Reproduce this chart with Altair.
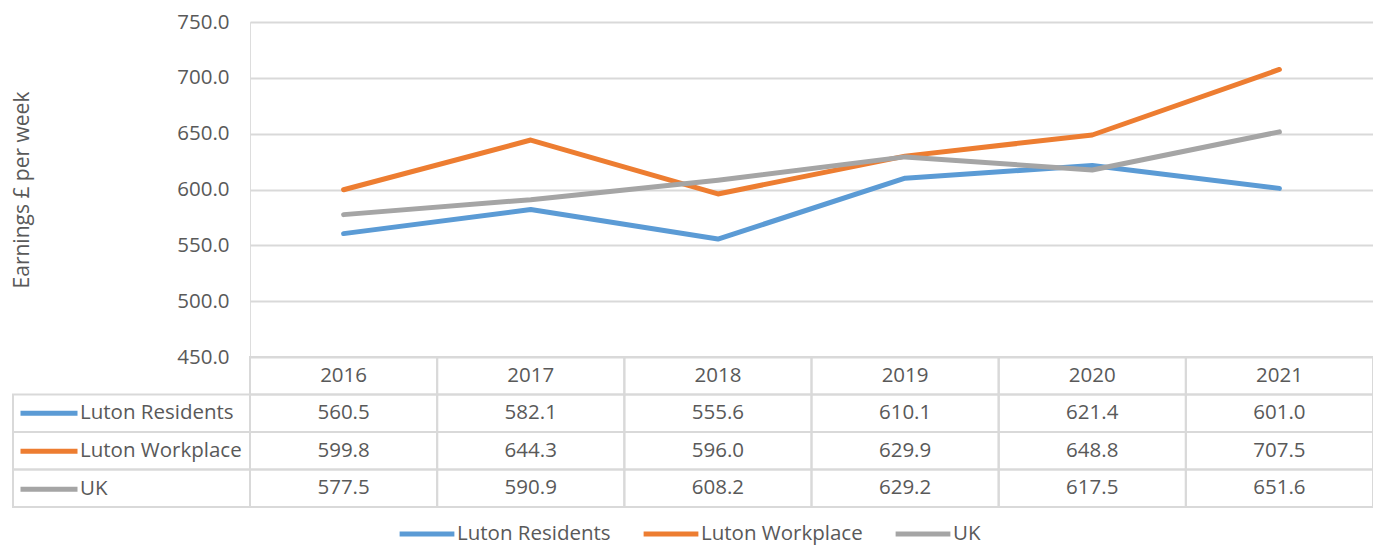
import altair as alt
import pandas as pd

# ---- data ----
years = ["2016", "2017", "2018", "2019", "2020", "2021"]
series = ["Luton Residents", "Luton Workplace", "UK"]
residents = [560.5, 582.1, 555.6, 610.1, 621.4, 601.0]
workplace = [599.8, 644.3, 596.0, 629.9, 648.8, 707.5]
uk = [577.5, 590.9, 608.2, 629.2, 617.5, 651.6]
y_ticks = [450, 500, 550, 600, 650, 700, 750]
colors = ["#5B9BD5", "#ED7D31", "#A5A5A5"]

values = {"Luton Residents": residents, "Luton Workplace": workplace, "UK": uk}
long = pd.DataFrame(
    [{"year": y, "series": s, "value": v} for s in series for y, v in zip(years, values[s])]
)

rows = ["header"] + series
cells = pd.DataFrame(
    [{"year": y, "row": "header", "text": y} for y in years]
    + [{"year": y, "row": s, "text": f"{v:.1f}"} for s in series for y, v in zip(years, values[s])]
)
label_cells = pd.DataFrame([{"col": "label", "row": s} for s in series])

# ---- layout ----
W = 1123
H_LINES = 335
ROW_H = 37.5
H = H_LINES + 4 * ROW_H
LABEL_W = 237
FONT = "Open Sans"
TXT = "#595959"
GRID = "#D9D9D9"
FS = 20.5

x_band = alt.Scale(type="band", domain=years, range=[0, W], paddingInner=0, paddingOuter=0)
y_rows = alt.Scale(type="band", domain=rows, range=[H_LINES, H], paddingInner=0, paddingOuter=0)
color_scale = alt.Scale(domain=series, range=colors)

grid_cells = alt.Chart(cells).mark_rect(
    fill="white", fillOpacity=0, stroke=GRID, strokeWidth=2
).encode(
    x=alt.X("year:N", scale=x_band, axis=None),
    y=alt.Y("row:N", scale=y_rows, axis=None),
)

label_grid = alt.Chart(label_cells).mark_rect(
    fill="white", fillOpacity=0, stroke=GRID, strokeWidth=2
).encode(
    x=alt.X("col:N", scale=alt.Scale(type="band", domain=["label"], range=[-LABEL_W, 0],
                                      paddingInner=0, paddingOuter=0), axis=None),
    y=alt.Y("row:N", scale=y_rows, axis=None),
)

cell_text = alt.Chart(cells).mark_text(
    font=FONT, fontSize=FS, color=TXT, align="center", baseline="middle"
).encode(
    x=alt.X("year:N", scale=x_band, axis=None),
    y=alt.Y("row:N", scale=y_rows, axis=None),
    text="text:N",
)

lines = alt.Chart(long).mark_line(
    strokeWidth=5, strokeCap="round", strokeJoin="round"
).encode(
    x=alt.X("year:N", scale=x_band, axis=None),
    y=alt.Y(
        "value:Q",
        scale=alt.Scale(domain=[450, 750], range=[H_LINES, 0], nice=False, zero=False),
        axis=alt.Axis(
            values=y_ticks, format=".1f", title="Earnings £ per week",
            grid=True, gridColor=GRID, gridWidth=2, domain=False, ticks=False,
            labelFont=FONT, labelFontSize=FS, labelColor=TXT, labelPadding=21,
            titleFont=FONT, titleFontSize=21, titleColor=TXT, titleFontWeight="normal",
            titleX=-228, titleY=H_LINES / 2, titleAlign="center", titleBaseline="middle",
            titleAngle=270,
        ),
    ),
    color=alt.Color(
        "series:N", scale=color_scale,
        legend=alt.Legend(
            orient="none", direction="horizontal", title=None,
            legendX=147, legendY=500, symbolType="stroke", symbolSize=3000,
            symbolStrokeWidth=5, labelFont=FONT, labelFontSize=FS, labelColor=TXT,
            labelOffset=0, columnPadding=30, clipHeight=24, labelLimit=400,
        ),
    ),
)

legend_rows = alt.Chart(long).mark_line(strokeWidth=5, opacity=0).encode(
    x=alt.X("year:N", scale=x_band, axis=None),
    y=alt.Y("value:Q", scale=alt.Scale(domain=[450, 750], range=[H_LINES, 0]), axis=None),
    color=alt.Color(
        "series:N", scale=color_scale,
        legend=alt.Legend(
            orient="none", direction="vertical", title=None,
            legendX=-232, legendY=H_LINES + ROW_H, symbolType="stroke", symbolSize=3249,
            symbolStrokeWidth=5, symbolOpacity=1, labelFont=FONT, labelFontSize=FS,
            labelColor=TXT, labelOffset=0, clipHeight=ROW_H, rowPadding=0, labelLimit=400,
        ),
    ),
)

chart = alt.layer(grid_cells, label_grid, cell_text, lines, legend_rows).resolve_scale(
    x="independent", y="independent", color="independent"
).properties(
    width=W, height=H,
    padding={"left": 242, "top": 14, "right": 0, "bottom": 40},
    autosize=alt.AutoSizeParams(type="none"),
).configure_view(strokeWidth=0, stroke="transparent").configure(background="white")

chart.save("out.html", embed_options={"renderer": "svg", "actions": False})
